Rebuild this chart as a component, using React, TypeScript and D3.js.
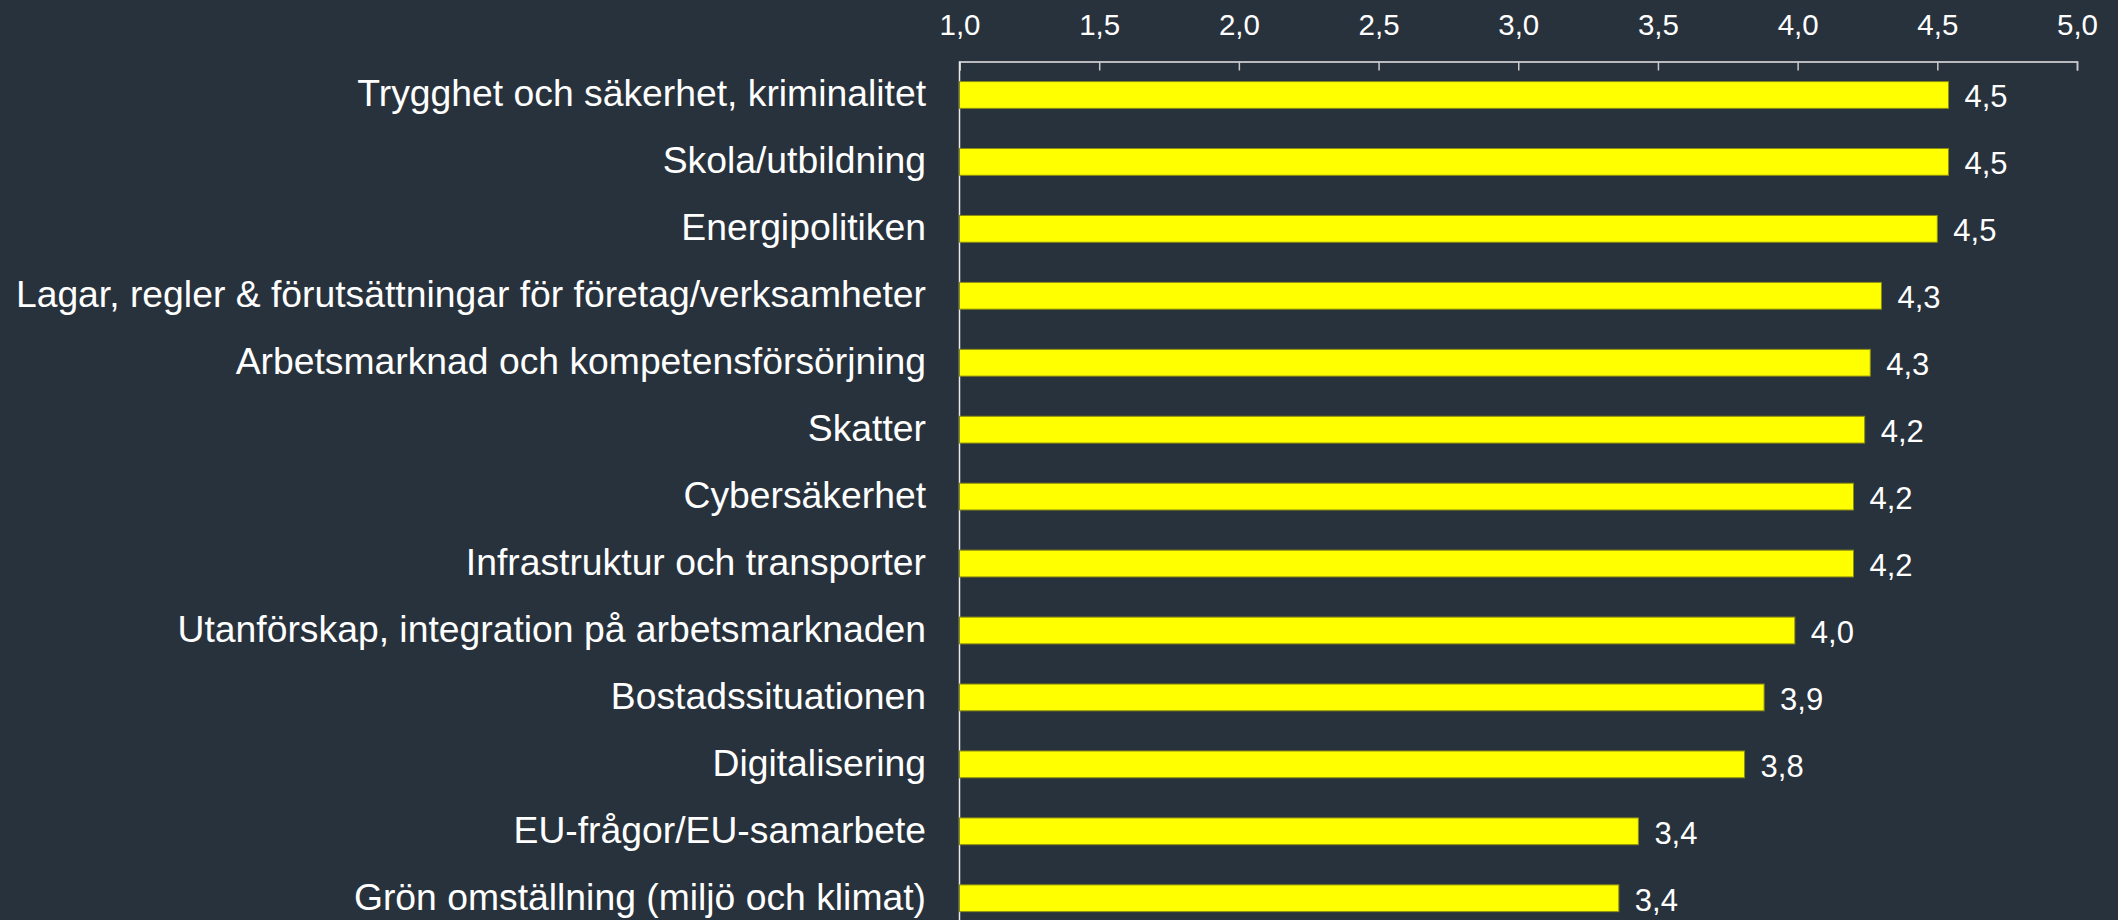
import { useRef, useEffect } from "react";
import * as d3 from "d3";

const categories = [
  "Trygghet och säkerhet, kriminalitet",
  "Skola/utbildning",
  "Energipolitiken",
  "Lagar, regler & förutsättningar för företag/verksamheter",
  "Arbetsmarknad och kompetensförsörjning",
  "Skatter",
  "Cybersäkerhet",
  "Infrastruktur och transporter",
  "Utanförskap, integration på arbetsmarknaden",
  "Bostadssituationen",
  "Digitalisering",
  "EU-frågor/EU-samarbete",
  "Grön omställning (miljö och klimat)",
];

const values = [4.54, 4.54, 4.5, 4.3, 4.26, 4.24, 4.2, 4.2, 3.99, 3.88, 3.81, 3.43, 3.36];

const xTicks = [1, 1.5, 2, 2.5, 3, 3.5, 4, 4.5, 5];

const BG = "#28323d";

const App = () => {
  const chartRef = useRef<HTMLDivElement>(null);

  useEffect(() => {
    document.body.style.margin = "0";
    document.body.style.background = BG;
    const el = chartRef.current;
    const W = 2118;
    const H = 920;
    const left = 959.5;
    const right = 2077;
    const top = 61.5;
    const step = 66.94;

    const svg = d3
      .select(el)
      .append("svg")
      .attr("width", W)
      .attr("height", H)
      .style("display", "block")
      .style("font-family", "'Liberation Sans', Arial, sans-serif");

    svg.append("rect").attr("width", W).attr("height", H).attr("fill", BG);

    const x = d3.scaleLinear().domain([1, 5]).range([left, right]);
    const y = d3
      .scaleBand<string>()
      .domain(categories)
      .range([top, top + step * categories.length])
      .paddingInner(0.6)
      .paddingOuter(0.3);

    const fmt = (v: number) => d3.format(".1f")(v).replace(".", ",");

    // top axis
    const xAxis = svg
      .append("g")
      .attr("transform", `translate(0, ${top})`)
      .call(
        d3
          .axisTop(x)
          .tickValues(xTicks)
          .tickSize(-9)
          .tickPadding(27)
          .tickFormat(d => fmt(d as number))
      );
    xAxis.select(".domain").attr("stroke", "#e8e8e8").attr("stroke-width", 1.5);
    xAxis.selectAll(".tick line").attr("stroke", "#c8c8c8").attr("stroke-width", 1.5);
    xAxis
      .selectAll(".tick text")
      .attr("fill", "#ffffff")
      .attr("font-size", 29.5)
      .attr("font-family", "'Liberation Sans', Arial, sans-serif");

    // vertical axis line
    svg
      .append("line")
      .attr("x1", left)
      .attr("x2", left)
      .attr("y1", top)
      .attr("y2", H)
      .attr("stroke", "#e8e8e8")
      .attr("stroke-width", 1.5);

    // bars
    svg
      .selectAll(".bar")
      .data(values)
      .enter()
      .append("rect")
      .attr("class", "bar")
      .attr("x", x(1))
      .attr("y", (_d, i) => y(categories[i]) as number)
      .attr("width", d => x(d) - x(1))
      .attr("height", y.bandwidth())
      .attr("fill", "#ffff00")
      .attr("stroke", "#8c8c10")
      .attr("stroke-width", 1);

    // value labels
    svg
      .selectAll(".val")
      .data(values)
      .enter()
      .append("text")
      .attr("class", "val")
      .attr("x", d => x(d) + 16)
      .attr("y", (_d, i) => (y(categories[i]) as number) + y.bandwidth() / 2 + 12.5)
      .attr("fill", "#ffffff")
      .attr("font-size", 31)
      .text(d => fmt(d));

    // category labels
    svg
      .selectAll(".cat")
      .data(categories)
      .enter()
      .append("text")
      .attr("class", "cat")
      .attr("x", left - 33.5)
      .attr("y", d => (y(d) as number) + y.bandwidth() / 2 + 11.5)
      .attr("text-anchor", "end")
      .attr("fill", "#ffffff")
      .attr("font-size", 37.3)
      .text(d => d);

    return () => {
      d3.select(el).select("svg").remove();
    };
  }, []);

  return <div ref={chartRef}></div>;
};

export default App;
